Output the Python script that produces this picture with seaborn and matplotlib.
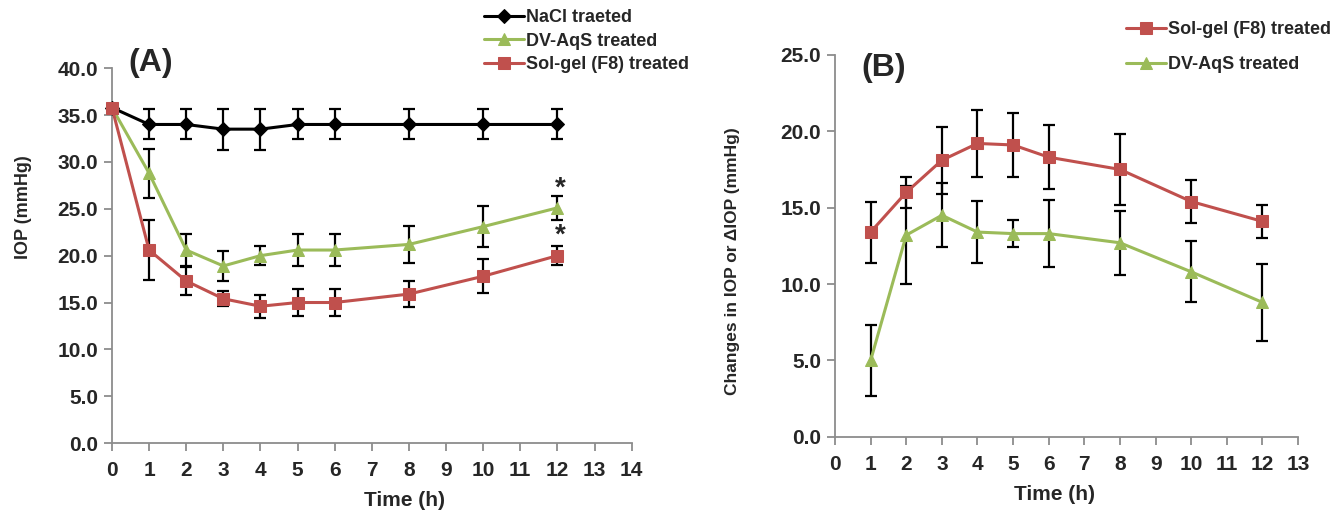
import matplotlib
matplotlib.use("Agg")
import matplotlib.pyplot as plt
import seaborn as sns
import pandas as pd
import numpy as np

# ---- data ----
time_a = [0, 1, 2, 3, 4, 5, 6, 8, 10, 12]
nacl = [35.8, 34.0, 34.0, 33.5, 33.5, 34.0, 34.0, 34.0, 34.0, 34.0]
nacl_err = [0.0, 1.6, 1.6, 2.2, 2.2, 1.6, 1.6, 1.6, 1.6, 1.6]
dv_a = [35.8, 28.8, 20.6, 18.9, 20.0, 20.6, 20.6, 21.2, 23.1, 25.1]
dv_a_err = [0.0, 2.6, 1.7, 1.6, 1.0, 1.7, 1.7, 2.0, 2.2, 1.3]
sol_a = [35.8, 20.6, 17.3, 15.4, 14.6, 15.0, 15.0, 15.9, 17.8, 20.0]
sol_a_err = [0.0, 3.2, 1.5, 0.8, 1.2, 1.4, 1.4, 1.35, 1.8, 1.0]

time_b = [1, 2, 3, 4, 5, 6, 8, 10, 12]
sol_b = [13.4, 16.0, 18.1, 19.2, 19.1, 18.3, 17.5, 15.4, 14.1]
sol_b_err = [2.0, 1.0, 2.2, 2.2, 2.1, 2.1, 2.35, 1.4, 1.1]
dv_b = [5.0, 13.2, 14.5, 13.4, 13.3, 13.3, 12.7, 10.8, 8.8]
dv_b_err = [2.35, 3.2, 2.1, 2.05, 0.9, 2.2, 2.1, 2.0, 2.5]

RED = "#C0504D"
GREEN = "#9BBB59"
BLACK = "#000000"
GREY = "#8C8C8C"

sns.set_style("white")
plt.rcParams['font.family'] = ['Liberation Sans', 'DejaVu Sans']
plt.rcParams['font.weight'] = 'bold'

fig = plt.figure(figsize=(13.36, 5.17), dpi=100)
ax_a = fig.add_axes([0.0838, 0.143, 0.389, 0.725])
ax_b = fig.add_axes([0.625, 0.155, 0.3466, 0.739])


def draw_series(ax, t, y, err, color, marker, label, ms):
    df = pd.DataFrame({'Time': t, 'IOP': y})
    ax.errorbar(t, y, yerr=err, fmt='none', ecolor='black', elinewidth=1.6,
                capsize=4, capthick=1.6, zorder=2, clip_on=False)
    sns.lineplot(data=df, x='Time', y='IOP', ax=ax, color=color, marker=marker,
                 markersize=ms, markeredgecolor=color, linewidth=2.2,
                 label=label, zorder=3, clip_on=False)


def style_axis(ax, xmax, ymax, ystep):
    for s in ['top', 'right']:
        ax.spines[s].set_visible(False)
    for s in ['left', 'bottom']:
        ax.spines[s].set_color(GREY)
        ax.spines[s].set_linewidth(1.3)
    ax.set_xlim(0, xmax)
    ax.set_ylim(0, ymax)
    ax.set_xticks(range(0, xmax + 1))
    ax.set_yticks(np.arange(0, ymax + 0.1, ystep))
    ax.set_yticklabels([f"{v:.1f}" for v in np.arange(0, ymax + 0.1, ystep)])
    ax.tick_params(axis='both', direction='out', length=6, width=1.3, color=GREY,
                   labelsize=15, pad=4, bottom=True, left=True)
    ax.tick_params(axis='x', pad=7)
    for lab in ax.get_xticklabels() + ax.get_yticklabels():
        lab.set_fontweight('bold')


# ---- panel A ----
draw_series(ax_a, time_a, nacl, nacl_err, BLACK, 'D', 'NaCl traeted', 7)
draw_series(ax_a, time_a, dv_a, dv_a_err, GREEN, '^', 'DV-AqS treated', 8)
draw_series(ax_a, time_a, sol_a, sol_a_err, RED, 's', 'Sol-gel (F8) treated', 8)
style_axis(ax_a, 14, 40, 5)
ax_a.set_xlabel('Time (h)', fontsize=15, fontweight='bold')
ax_a.xaxis.set_label_coords(0.563, -0.128)
ax_a.set_ylabel('IOP (mmHg)', fontsize=13, fontweight='bold')
ax_a.yaxis.set_label_coords(-0.154, 0.63)
ax_a.text(0.43, 39.75, '(A)', fontsize=23, fontweight='bold')
ax_a.text(11.93, 26.4, '*', fontsize=20, fontweight='bold')
ax_a.text(11.93, 21.4, '*', fontsize=20, fontweight='bold')
ax_a.legend(loc='upper left', bbox_to_anchor=(0.357, 0.996), bbox_transform=fig.transFigure,
            frameon=False, fontsize=13, handlelength=2.2, handletextpad=0.1,
            labelspacing=0.35, borderaxespad=0)

# ---- panel B ----
draw_series(ax_b, time_b, sol_b, sol_b_err, RED, 's', 'Sol-gel (F8) treated', 8)
draw_series(ax_b, time_b, dv_b, dv_b_err, GREEN, '^', 'DV-AqS treated', 8)
style_axis(ax_b, 13, 25, 5)
ax_b.set_xlabel('Time (h)', fontsize=15, fontweight='bold')
ax_b.xaxis.set_label_coords(0.475, -0.125)
ax_b.set_ylabel('Changes in IOP or ΔIOP (mmHg)', fontsize=12.5, fontweight='bold')
ax_b.yaxis.set_label_coords(-0.205, 0.46)
ax_b.text(0.75, 23.6, '(B)', fontsize=23, fontweight='bold')
ax_b.legend(loc='upper left', bbox_to_anchor=(0.8376, 0.973), bbox_transform=fig.transFigure,
            frameon=False, fontsize=13, handlelength=2.2, handletextpad=0.1,
            labelspacing=1.0, borderaxespad=0)

fig.savefig('out.png', dpi=100)
